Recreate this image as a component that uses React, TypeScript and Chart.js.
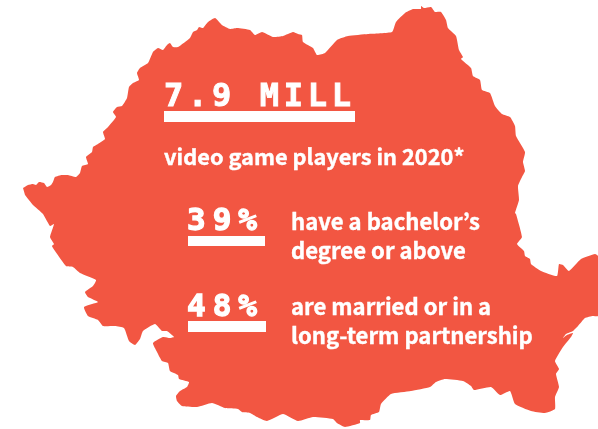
import React, { useEffect, useRef } from "react";
import { Chart, registerables } from "chart.js";

Chart.register(...registerables);

const COLOR = "#F25642";
const SANS = '"Noto Sans CJK JP", "Noto Sans", sans-serif';
const MONO = '"DejaVu Sans Mono", "Liberation Mono", monospace';

const outline: [number, number][] = [
  [23,188],[28,185],[33,184],[36,185],[39,182],[44,183],[47,187],[51,185],[53,182],[55,177],[62,175],[68,175],[76,177],[80,173],[82,166],[88,164],[86,157],[92,152],[93,147],[98,144],[105,139],[103,132],[108,127],[116,117],[113,112],[117,107],[122,106],[127,98],[129,87],[133,83],[139,80],[137,73],[140,68],[148,63],[153,52],[158,48],[163,50],[167,45],[170,43],[173,47],[178,47],[190,38],[193,32],[197,30],[199,27],[203,28],[208,22],[215,18],[222,25],[230,29],[237,28],[250,30],[255,35],[262,32],[273,37],[283,36],[293,32],
  [298,34],[302,35],[303,42],[313,48],[317,55],[325,53],[337,40],[348,36],[368,34],[392,32],[396,22],[405,13],[413,9],[421,9],[421,6],[424,8],[431,7],[435,12],[441,12],[446,20],[448,28],[456,36],[459,50],[463,57],[461,59],[471,68],[473,76],[480,80],[482,90],[490,93],[495,106],[502,114],[510,117],[515,126],[516,136],[525,152],[523,162],[525,171],[522,177],[518,186],[519,200],[515,213],
  [516,214],[522,237],[517,244],[524,251],[525,256],[530,259],[531,264],[541,271],[557,276],[559,264],[563,265],[569,271],[581,259],[595,254],[598,256],[598,316],[593,316],[585,318],[578,326],[573,331],[566,334],[563,338],[567,335],[573,333],[571,337],[563,347],[555,361],[559,369],[556,374],[559,387],[555,397],[555,409],[545,413],[531,411],[515,404],[510,391],[500,395],[491,387],[474,390],[471,386],[463,381],[445,379],[436,382],[430,387],[411,391],[391,394],[381,404],[379,412],[371,415],[370,420],[360,420],[360,423],[345,427],[337,423],[333,419],[313,417],[298,421],
  [283,414],[267,421],[257,417],[250,413],[242,412],[238,409],[225,408],[212,403],[197,407],[182,406],[177,401],[176,396],[180,391],[187,387],[189,382],[179,379],[178,375],[170,371],[168,363],[162,361],[157,352],[153,343],[163,337],[170,338],[174,337],[167,331],[162,331],[155,324],[143,331],[140,339],[135,345],[129,341],[124,328],[115,326],[103,326],[98,320],[88,316],[84,307],[98,302],[88,297],[85,292],[93,286],[96,280],[80,273],[73,267],[66,266],[55,251],[52,246],[54,244],[50,237],[54,224],[50,226],[43,214],[33,205],[25,195],
];

const headline = "7.9 MILL";
const subhead = "video game players in 2020*";
const stat1 = "39%";
const stat2 = "48%";
const stat1Lines = ["have a bachelor\u2019s", "degree or above"];
const stat2Lines = ["are married or in a", "long-term partnership"];

const textPlugin = {
  id: "labels",
  afterDatasetsDraw(chart: any) {
    const { ctx } = chart;
    const X = (v: number) => chart.scales.x.getPixelForValue(v);
    const Y = (v: number) => chart.scales.y.getPixelForValue(v);
    const bar = (x0: number, x1: number, y0: number, y1: number) => {
      ctx.fillStyle = "#fff";
      ctx.fillRect(X(x0), Y(y0), X(x1) - X(x0), Y(y1) - Y(y0));
    };
    const text = (s: string, x: number, y: number, font: string, spacing = "0px", stroke = 0) => {
      ctx.font = font;
      (ctx as any).letterSpacing = spacing;
      ctx.fillStyle = "#fff";
      ctx.strokeStyle = "#fff";
      ctx.textAlign = "left";
      ctx.textBaseline = "alphabetic";
      ctx.fillText(s, X(x), Y(y));
      if (stroke) {
        ctx.lineWidth = stroke;
        ctx.strokeText(s, X(x), Y(y));
      }
    };
    ctx.save();
    bar(164, 355, 111, 122);
    bar(188, 265, 236, 246);
    bar(188, 266, 321, 332);
    text(headline, 164, 106, `700 32px ${MONO}`, "4.7px", 0.9);
    text(subhead, 164, 165, `700 21.8px ${SANS}`, "0px", 0.4);
    text(stat1, 187, 230, `700 31px ${MONO}`, "7px", 1.3);
    text(stat2, 187, 316, `700 31px ${MONO}`, "7px", 1.3);
    const body = `700 22.1px ${SANS}`;
    text(stat1Lines[0], 291, 230, body, "0px", 0.4);
    text(stat1Lines[1], 291, 259, body, "0px", 0.4);
    text(stat2Lines[0], 291, 315, body, "0px", 0.4);
    text(stat2Lines[1], 291, 344, body, "0px", 0.4);
    ctx.restore();
  },
};

export default function App() {
  const ref = useRef<HTMLCanvasElement>(null);
  useEffect(() => {
    document.body.style.margin = "0";
    const chart = new Chart(ref.current!, {
      type: "scatter",
      data: {
        datasets: [
          {
            label: "Romania",
            data: outline.map(([x, y]) => ({ x, y })),
            showLine: true,
            pointRadius: 0,
            borderWidth: 0,
            borderColor: COLOR,
            backgroundColor: COLOR,
            fill: "shape",
            tension: 0.15,
          },
        ],
      },
      options: {
        animation: false,
        responsive: false,
        layout: { padding: 0 },
        plugins: { legend: { display: false }, tooltip: { enabled: false } },
        scales: {
          x: { type: "linear", min: 0, max: 598, display: false },
          y: { type: "linear", min: 0, max: 429, reverse: true, display: false },
        },
      },
      plugins: [textPlugin],
    } as any);
    return () => chart.destroy();
  }, []);
  return <canvas ref={ref} width={598} height={429} style={{ display: "block" }} />;
}
